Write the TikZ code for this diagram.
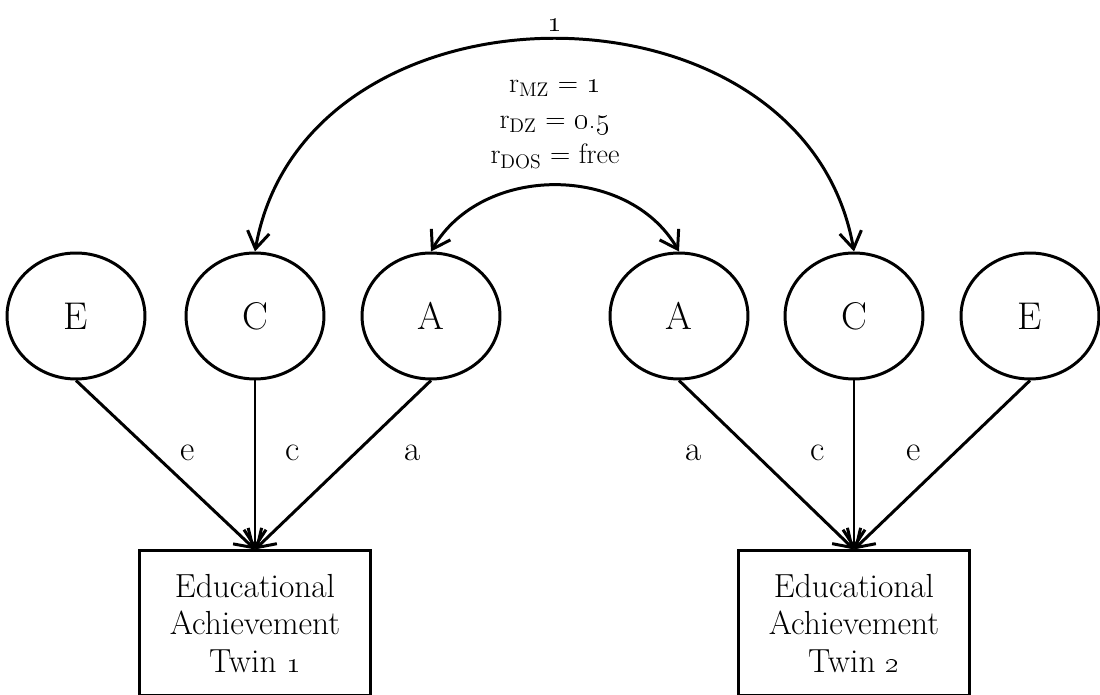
\documentclass[tikz,border=0pt]{standalone}
\usetikzlibrary{positioning,arrows.meta,shapes}
\tikzset{
>={Straight Barb[length=3.4mm,width=4.4mm]},
latent/.style={draw,ellipse,inner sep=0pt,minimum width=2.76cm,minimum height=2.52cm,font=\fontsize{22}{26}\selectfont},
observed/.style={draw,rectangle,align=center,minimum width=4.62cm,minimum height=2.9cm,font=\fontsize{19}{21.5}\selectfont},
pathlbl/.style={font=\fontsize{20}{24}\selectfont},
corrlbl/.style={font=\fontsize{16}{20.4}\selectfont}
}

\begin{document}
\begin{tikzpicture}[x=0.02cm,y=-0.02cm,line width=1.7pt]
\useasboundingbox (0,0) rectangle (1100,695);

\node[latent] (E1) at (76,316)  {E};
\node[latent] (C1) at (255,316) {C};
\node[latent] (A1) at (431,316) {A};
\node[latent] (A2) at (679,316) {A};
\node[latent] (C2) at (854,316) {C};
\node[latent] (E2) at (1030,316) {E};

\node[observed] (T1) [below=3.38cm of C1] {Educational\\Achievement\\Twin \oldstylenums{1}};
\node[observed] (T2) [below=3.38cm of C2] {Educational\\Achievement\\Twin \oldstylenums{2}};

\node[corrlbl,align=center] (corr) at (555,124)
  {r\textsubscript{MZ} = \oldstylenums{1}\\r\textsubscript{DZ} = \oldstylenums{0.5}\\r\textsubscript{DOS} = free};

\path[->] (E1.south) edge node[pathlbl,pos=0.43,xshift=0.7cm]   {e} (T1.north)
          (C1.south) edge node[pathlbl,pos=0.43,xshift=0.76cm]  {c} (T1.north)
          (A1.south) edge node[pathlbl,pos=0.43,xshift=1.14cm]  {a} (T1.north)
          (A2.south) edge node[pathlbl,pos=0.43,xshift=-1.22cm] {a} (T2.north)
          (C2.south) edge node[pathlbl,pos=0.43,xshift=-0.72cm] {c} (T2.north)
          (E2.south) edge node[pathlbl,pos=0.43,xshift=-0.82cm] {e} (T2.north);

\path[<->] (C1.north) edge[out=80,in=100,looseness=1.23] node[corrlbl,above=0pt] {\oldstylenums{1}} (C2.north)
           (A1.north) edge[out=60,in=120,looseness=1.05] (A2.north);
\end{tikzpicture}
\end{document}
